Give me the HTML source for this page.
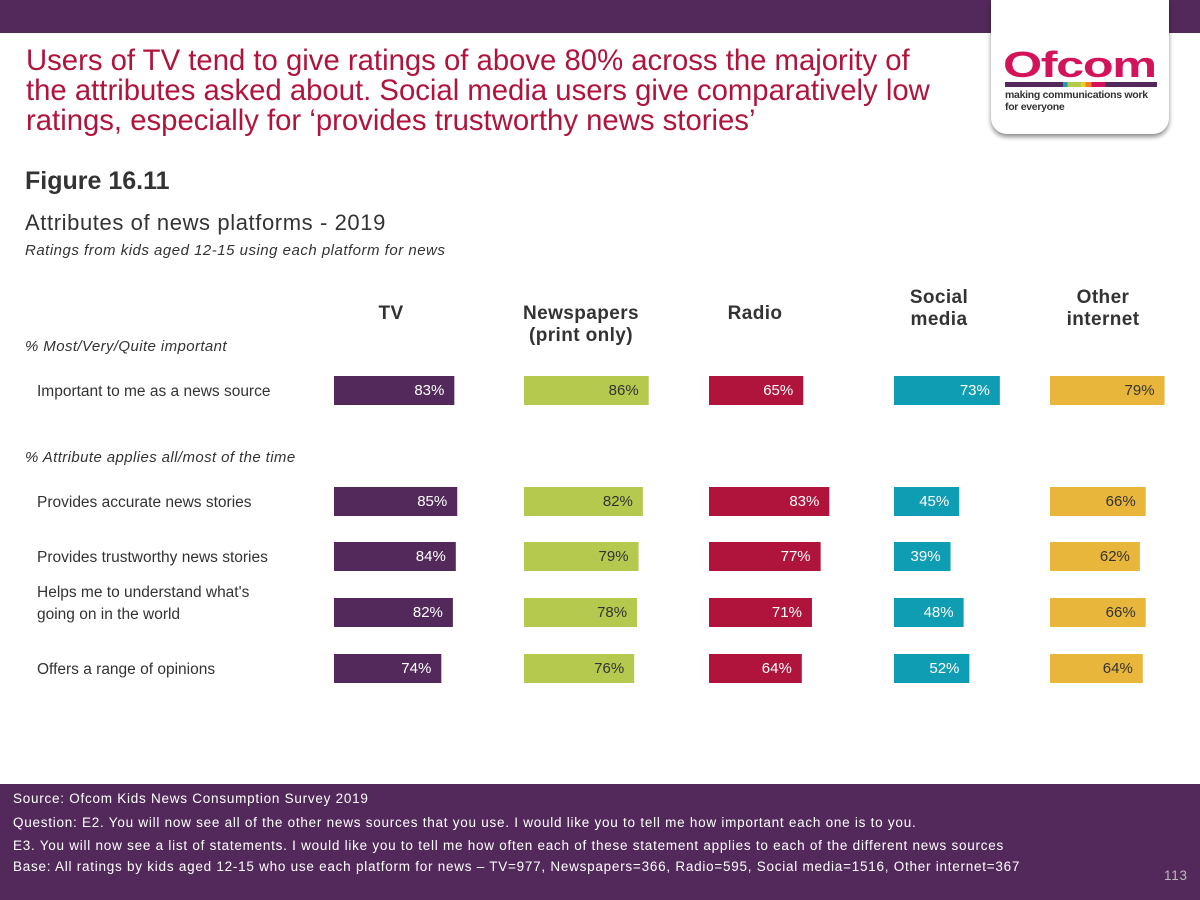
<!DOCTYPE html>
<html><head><meta charset="utf-8"><style>
body{margin:0;width:1200px;height:900px;position:relative;overflow:hidden;background:#fff;font-family:"Liberation Sans",sans-serif}
.a{position:absolute;white-space:nowrap}
</style></head><body>
<div class="a" style="left:0;top:0;width:1200px;height:33px;background:#52295a"></div>
<div class="a" style="left:991px;top:0;width:178px;height:134px;background:#fff;border-radius:0 0 16px 16px;box-shadow:0 3px 5px rgba(0,0,0,.45)">
  <div class="a" style="left:12px;top:50px;font-size:36px;font-weight:bold;color:#d4145a;letter-spacing:-1px;line-height:30px;transform:scaleX(1.4);transform-origin:0 0">Ofcom</div>
  <div class="a" style="left:14px;top:82px;width:152px;height:5px;background:linear-gradient(90deg,#52295a 0 38%,#1aa0b0 38% 41%,#b5c94b 41% 50%,#f0d020 50% 53%,#f08020 53% 57%,#d4145a 57% 66%,#52295a 66%)"></div>
  <div class="a" style="left:14px;top:89px;font-size:10.5px;line-height:12px;color:#333;letter-spacing:-.3px;font-weight:bold">making communications work<br>for everyone</div>
</div>
<div class="a" style="left:26px;top:46px;font-size:29.3px;line-height:30px;color:#b0143c">Users of TV tend to give ratings of above 80% across the majority of<br>the attributes asked about. Social media users give comparatively low<br>ratings, especially for ‘provides trustworthy news stories’</div>
<div class="a" style="left:25px;top:167px;font-size:25px;font-weight:bold;color:#333">Figure 16.11</div>
<div class="a" style="left:25px;top:210px;font-size:22px;letter-spacing:.6px;color:#333">Attributes of news platforms - 2019</div>
<div class="a" style="left:25px;top:242px;font-size:15px;letter-spacing:.5px;font-style:italic;color:#333">Ratings from kids aged 12-15 using each platform for news</div>
<svg id="chart" class="a" style="left:0;top:270px" width="1200" height="440"></svg>
<div class="a" style="left:0;top:784px;width:1200px;height:116px;background:#52295a;color:#fff;font-size:13.5px;letter-spacing:.75px">
  <div class="a" style="left:13px;top:7px">Source: Ofcom Kids News Consumption Survey 2019</div>
  <div class="a" style="left:13px;top:31px">Question: E2. You will now see all of the other news sources that you use. I would like you to tell me how important each one is to you.</div>
  <div class="a" style="left:13px;top:54px">E3. You will now see a list of statements.  I would like you to tell me how often each of these statement applies to each of the different news sources</div>
  <div class="a" style="left:13px;top:75px">Base: All ratings by kids aged 12-15 who use each platform for news – TV=977, Newspapers=366, Radio=595, Social media=1516, Other internet=367</div>
  <div class="a" style="left:1164px;top:84px;color:#bbb">113</div>
</div>
<script>
const platforms=["TV","Newspapers\n(print only)","Radio","Social\nmedia","Other\ninternet"];
const attributes=["Important to me as a news source","Provides accurate news stories","Provides trustworthy news stories","Helps me to understand what's\ngoing on in the world","Offers a range of opinions"];
const tv=[83,85,84,82,74];
const newspapers=[86,82,79,78,76];
const radio=[65,83,77,71,64];
const social=[73,45,39,48,52];
const other=[79,66,62,66,64];
const series=[tv,newspapers,radio,social,other];
const colors=["#52295a","#b5c94e","#b0143c","#0f9db3","#e8b63a"];
const textColors=["#fff","#333","#fff","#fff","#333"];
const colX=[334,524,709,894,1050];
const rowY=[106,217,272,328,384];
const pxPer=1.45;
const svg=document.getElementById('chart');
const NS="http://www.w3.org/2000/svg";
function x(v){return v*pxPer;}
function mk(t,a){const e=document.createElementNS(NS,t);for(const k in a)e.setAttribute(k,a[k]);svg.appendChild(e);return e;}
function txt(s,a,name){const e=mk('text',a);
 const lines=s.split("\n");lines.forEach((l,i)=>{const t=document.createElementNS(NS,'tspan');t.setAttribute('x',a.x);t.setAttribute('dy',i?22:0);t.textContent=l;e.appendChild(t);});return e;}
const hdrCenters=[391,581,755,939,1103];
platforms.forEach((p,i)=>{const two=p.includes("\n");
 txt(p,{x:hdrCenters[i],y:two?(i===1?49:33):49,'text-anchor':'middle','font-size':19,'font-weight':'bold','letter-spacing':0.4,fill:'#333'},'column-header');});
txt("% Most/Very/Quite important",{x:25,y:81,'font-size':15,'letter-spacing':0.4,'font-style':'italic',fill:'#333'},'section-label');
txt("% Attribute applies all/most of the time",{x:25,y:192,'font-size':15,'letter-spacing':0.4,'font-style':'italic',fill:'#333'},'section-label');
attributes.forEach((a,r)=>{const two=a.includes("\n");
 txt(a,{x:37,y:rowY[r]+(two?-1:20),'font-size':15.5,fill:'#333'},'row-label');
 series.forEach((ser,c)=>{const w=x(ser[r]);
  const b=mk('rect',{x:colX[c],y:rowY[r],width:w,height:29,fill:colors[c]});
  
  
  txt(ser[r]+"%",{x:colX[c]+w-10,y:rowY[r]+19,'text-anchor':'end','font-size':15,fill:textColors[c]},'value-label');
 });
});
</script>
</body></html>
